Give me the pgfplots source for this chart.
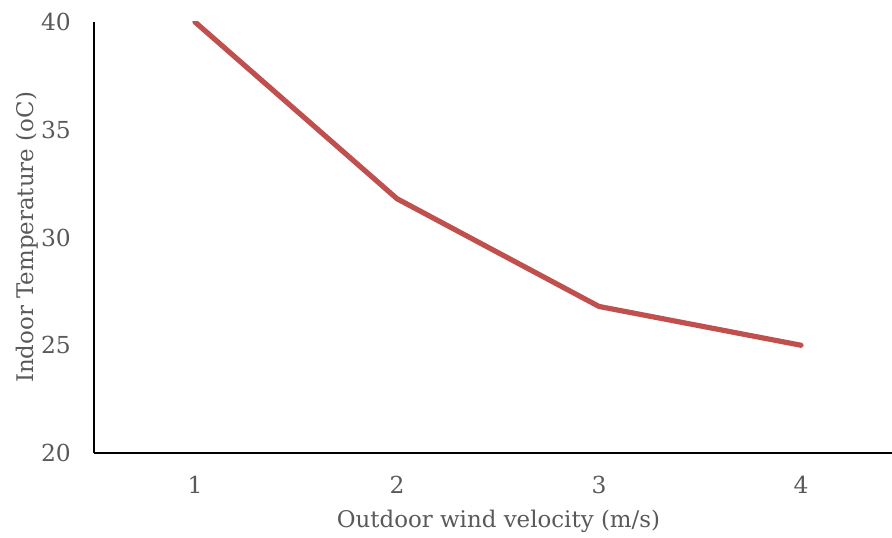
\documentclass[border=0pt]{standalone}
\usepackage{pgfplots}
\pgfplotsset{compat=1.18}
\usepackage{fontspec}
\setmainfont{DejaVu Serif}
\definecolor{linered}{RGB}{192,80,77}
\definecolor{txtgray}{RGB}{89,89,89}
\begin{document}
\begin{tikzpicture}
\useasboundingbox (-94bp,-85bp) rectangle (798bp,453bp);
\begin{axis}[
    at={(0,0)}, anchor=south west,
    scale only axis,
    width=808bp, height=431bp,
    xmin=0.5, xmax=4.5,
    ymin=20, ymax=40,
    xtick={1,2,3,4},
    ytick={20,25,30,35,40},
    axis lines=left,
    axis line style={-, black, line width=1.3bp},
    major tick length=0pt,
    /pgf/number format/assume math mode=true,
    tick label style={font=\fontsize{23.5}{28}\selectfont, text=txtgray, inner sep=0pt},
    yticklabel style={xshift=-23bp},
    xticklabel style={yshift=-23bp},
    label style={font=\fontsize{23}{28}\selectfont, text=txtgray},
    xlabel={Outdoor wind velocity (m/s)},
    ylabel={Indoor Temperature (oC)},
    xlabel style={at={(axis description cs:0.5006,-0.1578)}, anchor=center},
    ylabel style={at={(axis description cs:-0.0829,0.5)}, anchor=center},
  ]
  \addplot[color=linered, line width=5.2bp, line cap=round, line join=round]
    coordinates {(1,40) (2,31.8) (3,26.8) (4,25)};
\end{axis}
\end{tikzpicture}
\end{document}
